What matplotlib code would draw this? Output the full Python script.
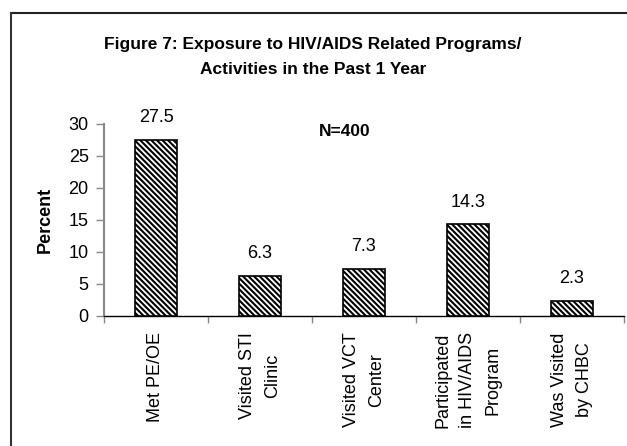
import matplotlib
matplotlib.use("Agg")
import matplotlib.pyplot as plt
from matplotlib.lines import Line2D

categories = ["Met PE/OE", "Visited STI\nClinic", "Visited VCT\nCenter",
              "Participated\nin HIV/AIDS\nProgram", "Was Visited\nby CHBC"]
values = [27.5, 6.3, 7.3, 14.3, 2.3]
value_labels = ["27.5", "6.3", "7.3", "14.3", "2.3"]
yticks = [0, 5, 10, 15, 20, 25, 30]

plt.rcParams['font.family'] = ['Liberation Sans', 'DejaVu Sans']
plt.rcParams['hatch.linewidth'] = 1.5

W, H = 627, 446
fig = plt.figure(figsize=(W/100, H/100), dpi=100)
ax = fig.add_axes([104/W, 1-316/H, (624-104)/W, 192/H])

x = list(range(len(values)))
ax.bar(x, values, width=0.41, facecolor='white', edgecolor='black',
       hatch='\\\\\\\\\\\\', linewidth=1.2, zorder=3)
for xi, v, t in zip(x, values, value_labels):
    ax.annotate(t, (xi, v), xytext=(0, 10), textcoords='offset points',
                ha='center', va='bottom', fontsize=13)

ax.set_xlim(-0.5, len(values)-0.5)
ax.set_ylim(0, 30)
ax.set_yticks(yticks)
ax.set_yticklabels([str(t) for t in yticks], fontsize=13)
ax.tick_params(axis='y', direction='out', length=6, width=1, color='#888888', pad=5)
ax.set_xticks([i-0.5 for i in range(len(values)+1)])
ax.set_xticklabels([])
ax.tick_params(axis='x', direction='out', length=5, width=1, color='#888888')
for i, c in enumerate(categories):
    ax.text(i, -0.085, c, transform=ax.get_xaxis_transform(), rotation=90,
            ha='center', va='top', multialignment='center', fontsize=13,
            linespacing=1.6)

for s in ['top', 'right']:
    ax.spines[s].set_visible(False)
ax.spines['left'].set_color('#888888')
ax.spines['left'].set_linewidth(1.5)
ax.spines['bottom'].set_color('black')
ax.spines['bottom'].set_linewidth(1)
ax.set_facecolor('none')

fig.text(45/W, 1-220/H, "Percent", ha='center', va='center', rotation=90,
         fontsize=13, fontweight='bold')
fig.text(345/W, 1-131/H, "N=400", ha='center', va='center', fontsize=12.5, fontweight='bold')
fig.text(313/W, 1-45/H, "Figure 7: Exposure to HIV/AIDS Related Programs/",
         ha='center', va='center', fontsize=12.5, fontweight='bold')
fig.text(313/W, 1-70/H, "Activities in the Past 1 Year",
         ha='center', va='center', fontsize=12.5, fontweight='bold')

fig.add_artist(Line2D([11/W, 1.0], [1-13/H, 1-13/H], color='#222222', linewidth=1.5))
fig.add_artist(Line2D([11/W, 11/W], [0, 1-13/H], color='#333333', linewidth=1.5))

fig.savefig("out.png", dpi=100)
